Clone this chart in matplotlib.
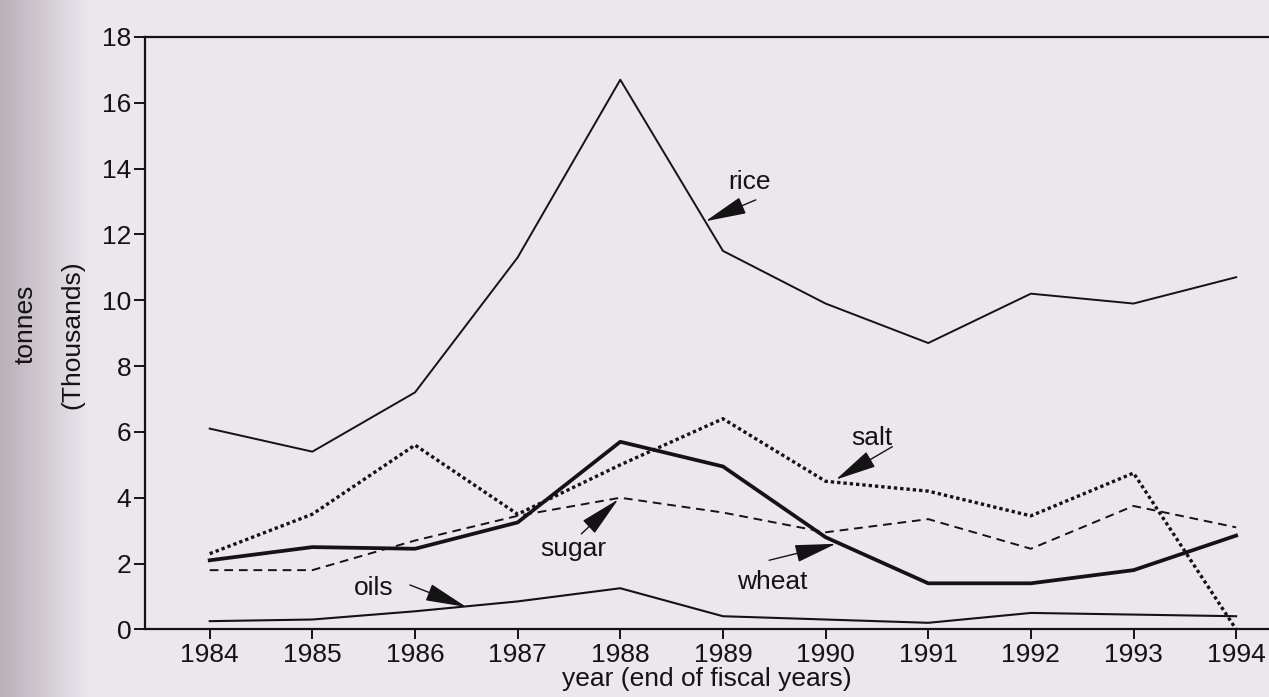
import numpy as np
import matplotlib
matplotlib.use('Agg')
import matplotlib.pyplot as plt

plt.rcParams['font.family'] = ['Liberation Sans', 'DejaVu Sans']

# values (thousand tonnes)
years = [1984, 1985, 1986, 1987, 1988, 1989, 1990, 1991, 1992, 1993, 1994]
rice = [6.1, 5.4, 7.2, 11.3, 16.7, 11.5, 9.9, 8.7, 10.2, 9.9, 10.7]
salt = [2.3, 3.5, 5.6, 3.5, 5.0, 6.4, 4.5, 4.2, 3.45, 4.75, 0.0]
sugar = [1.8, 1.8, 2.7, 3.45, 4.0, 3.55, 2.95, 3.35, 2.45, 3.75, 3.1]
wheat = [2.1, 2.5, 2.45, 3.25, 5.7, 4.95, 2.8, 1.4, 1.4, 1.8, 2.85]
oils = [0.25, 0.3, 0.55, 0.85, 1.25, 0.4, 0.3, 0.2, 0.5, 0.45, 0.4]

bg = '#ebe7ed'
ink = '#141214'
fs = 19

fig = plt.figure(figsize=(12.69, 6.97), dpi=100, facecolor=bg)

# darker scan edge on the left
edge = fig.add_axes([0, 0, 0.07, 1])
grad = np.linspace(0, 1, 100).reshape(1, -1)
edge.imshow(grad, aspect='auto', cmap=matplotlib.colors.LinearSegmentedColormap.from_list(
    'e', ['#b9b0b8', bg]), extent=[0, 1, 0, 1])
edge.axis('off')

ax = fig.add_axes([0.1143, 0.097, 0.8857, 0.850])
ax.set_facecolor(bg)

ax.plot(years, rice, color=ink, lw=1.4)
ax.plot(years, salt, color=ink, lw=2.4, linestyle=(0, (1, 0.9)))
ax.plot(years, sugar, color=ink, lw=1.4, linestyle=(0, (4.5, 3)))
ax.plot(years, wheat, color=ink, lw=2.7)
ax.plot(years, oils, color=ink, lw=1.5)

ax.set_xlim(1983.37, 1994.32)
ax.set_ylim(0, 18)
ax.set_xticks(years)
ax.set_yticks(range(0, 19, 2))
ax.tick_params(axis='both', labelsize=fs, colors=ink, direction='out', width=1.4)
ax.tick_params(axis='y', length=8, pad=2)
ax.tick_params(axis='x', length=7, pad=3)

for s in ['left', 'bottom', 'top']:
    ax.spines[s].set_linewidth(1.6)
    ax.spines[s].set_color(ink)
ax.spines['right'].set_visible(False)

ax.set_xlabel('year (end of fiscal years)', fontsize=fs, color=ink, labelpad=0)
fig.text(0.02, 0.535, 'tonnes', rotation=90, fontsize=fs, color=ink,
         ha='center', va='center')
fig.text(0.057, 0.52, '(Thousands)', rotation=90, fontsize=fs, color=ink,
         ha='center', va='center')

arrow = dict(arrowstyle='-|>,head_length=2.6,head_width=0.55', color=ink,
             lw=1.0, mutation_scale=10, shrinkA=0, shrinkB=0)

notes = [
    ('rice', (1989.26, 13.6), (1989.32, 13.05), (1988.83, 12.4)),
    ('salt', (1990.45, 5.8), (1990.65, 5.55), (1990.1, 4.55)),
    ('sugar', (1987.54, 2.45), (1987.62, 2.9), (1987.98, 3.95)),
    ('wheat', (1989.48, 1.45), (1989.45, 2.1), (1990.1, 2.6)),
    ('oils', (1985.6, 1.25), (1985.95, 1.35), (1986.5, 0.68)),
]
for label, txt, tail, tip in notes:
    ax.text(txt[0], txt[1], label, fontsize=fs, color=ink, ha='center', va='center')
    ax.annotate('', xy=tip, xytext=tail, arrowprops=arrow)

fig.savefig('out.png', dpi=100, facecolor=bg)
